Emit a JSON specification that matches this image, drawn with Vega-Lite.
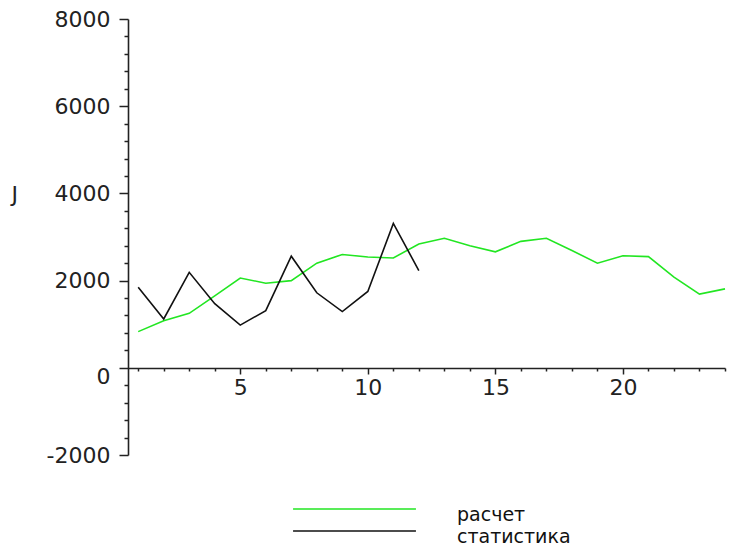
{
  "$schema": "https://vega.github.io/schema/vega-lite/v6.json",
  "width": 597,
  "height": 436,
  "autosize": {"type": "none"},
  "padding": {"left": 128, "top": 19, "right": 8, "bottom": 93},
  "background": "white",
  "config": {
    "view": {"stroke": null},
    "font": "DejaVu Sans",
    "axis": {
      "labelFont": "DejaVu Sans",
      "labelFontSize": 22,
      "labelColor": "#222222",
      "domainColor": "#222222",
      "tickColor": "#222222",
      "domainWidth": 1.6,
      "tickWidth": 1.5,
      "grid": false
    }
  },
  "data": {
    "values": [
      {"n": 1, "J": 830, "series": "расчет"},
      {"n": 2, "J": 1080, "series": "расчет"},
      {"n": 3, "J": 1250, "series": "расчет"},
      {"n": 4, "J": 1650, "series": "расчет"},
      {"n": 5, "J": 2060, "series": "расчет"},
      {"n": 6, "J": 1940, "series": "расчет"},
      {"n": 7, "J": 2000, "series": "расчет"},
      {"n": 8, "J": 2400, "series": "расчет"},
      {"n": 9, "J": 2600, "series": "расчет"},
      {"n": 10, "J": 2540, "series": "расчет"},
      {"n": 11, "J": 2520, "series": "расчет"},
      {"n": 12, "J": 2840, "series": "расчет"},
      {"n": 13, "J": 2970, "series": "расчет"},
      {"n": 14, "J": 2800, "series": "расчет"},
      {"n": 15, "J": 2660, "series": "расчет"},
      {"n": 16, "J": 2900, "series": "расчет"},
      {"n": 17, "J": 2970, "series": "расчет"},
      {"n": 18, "J": 2690, "series": "расчет"},
      {"n": 19, "J": 2400, "series": "расчет"},
      {"n": 20, "J": 2570, "series": "расчет"},
      {"n": 21, "J": 2550, "series": "расчет"},
      {"n": 22, "J": 2080, "series": "расчет"},
      {"n": 23, "J": 1690, "series": "расчет"},
      {"n": 24, "J": 1810, "series": "расчет"},
      {"n": 1, "J": 1850, "series": "статистика"},
      {"n": 2, "J": 1120, "series": "статистика"},
      {"n": 3, "J": 2190, "series": "статистика"},
      {"n": 4, "J": 1470, "series": "статистика"},
      {"n": 5, "J": 980, "series": "статистика"},
      {"n": 6, "J": 1310, "series": "статистика"},
      {"n": 7, "J": 2560, "series": "статистика"},
      {"n": 8, "J": 1720, "series": "статистика"},
      {"n": 9, "J": 1290, "series": "статистика"},
      {"n": 10, "J": 1750, "series": "статистика"},
      {"n": 11, "J": 3310, "series": "статистика"},
      {"n": 12, "J": 2230, "series": "статистика"}
    ]
  },
  "mark": {"type": "line", "strokeWidth": 1.6},
  "encoding": {
    "x": {
      "field": "n",
      "type": "quantitative",
      "scale": {"domain": [0.6, 24], "nice": false, "zero": false},
      "axis": {
        "orient": "bottom",
        "offset": -87,
        "title": null,
        "values": [1,2,3,4,5,6,7,8,9,10,11,12,13,14,15,16,17,18,19,20,21,22,23,24],
        "labelExpr": "datum.value % 5 === 0 ? datum.label : ''",
        "tickSize": {"condition": {"test": "datum.value % 5 === 0", "value": 6}, "value": 3},
        "labelPadding": 3,
        "labelBound": false,
        "labelFlush": false,
        "labelOverlap": false
      }
    },
    "y": {
      "field": "J",
      "type": "quantitative",
      "scale": {"domain": [-2000, 8000], "nice": false},
      "axis": {
        "orient": "left",
        "values": [-2000,-1600,-1200,-800,-400,0,400,800,1200,1600,2000,2400,2800,3200,3600,4000,4400,4800,5200,5600,6000,6400,6800,7200,7600,8000],
        "labelExpr": "datum.value % 2000 === 0 ? toString(datum.value) : ''",
        "tickSize": {"condition": {"test": "datum.value % 2000 === 0", "value": 9}, "value": 4},
        "labelOffset": {"condition": {"test": "datum.value === 0", "value": 9}, "value": 0},
        "labelPadding": 9,
        "labelBound": false,
        "labelFlush": false,
        "labelOverlap": false,
        "labelBaseline": "middle",
        "title": "J",
        "titleAngle": 0,
        "titleAlign": "left",
        "titleBaseline": "middle",
        "titleX": -117,
        "titleY": 175,
        "titleFont": "DejaVu Sans",
        "titleFontSize": 22,
        "titleFontWeight": "normal",
        "titleColor": "#222222"
      }
    },
    "color": {
      "field": "series",
      "type": "nominal",
      "scale": {"domain": ["расчет", "статистика"], "range": ["#22e622", "#111111"]},
      "legend": {
        "orient": "none",
        "legendX": 217,
        "legendY": 486,
        "title": null,
        "symbolType": "M-10,-0.9H10",
        "symbolSize": 151,
        "symbolStrokeWidth": 1.6,
        "labelFont": "DejaVu Sans",
        "labelFontSize": 19,
        "labelColor": "#111111",
        "labelOffset": 93,
        "labelLimit": 300,
        "rowPadding": 2,
        "padding": 0
      }
    }
  }
}
